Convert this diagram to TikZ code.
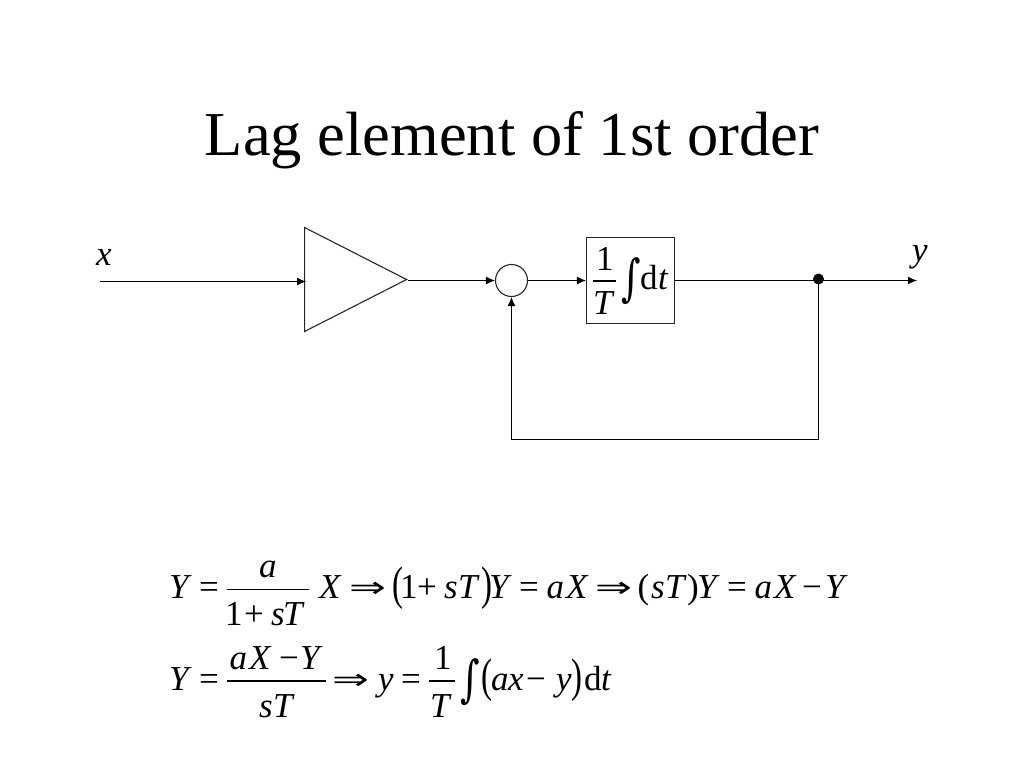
\documentclass[tikz,border=0pt]{standalone}
\usepackage{fontspec}
\usepackage{graphicx}
\setmainfont{Liberation Serif}
\newfontfamily\symf{DejaVu Sans}
\newfontfamily\intf{DejaVu Serif}
\usetikzlibrary{arrows.meta,shapes.geometric}
\newcommand{\eqs}{\fontsize{35}{37}\selectfont}
\newcommand{\bigint}{\scalebox{0.75}[1]{\fontsize{50}{50}\selectfont\intf ∫}}
\newcommand{\thenarrow}{\scalebox{1}[0.66]{\fontsize{44}{44}\selectfont\symf ⇒}}
\newcommand{\lpar}{\scalebox{0.7}[1]{(}}
\newcommand{\rpar}{\scalebox{0.7}[1]{)}}
\tikzset{
  wire/.style={line width=1.1pt,draw=black},
  flow/.style={wire,-{Latex[length=9pt,width=8pt]}},
  outline/.style={draw=black!85,line width=1.1pt,inner sep=0pt},
  tok/.style={anchor=base west,inner sep=0pt,outer sep=0pt,font=\eqs},
  itok/.style={tok,font=\eqs\itshape},
  bigp/.style={tok,font=\fontsize{47}{49}\selectfont},
  ctr/.style={anchor=center,inner sep=0pt,outer sep=0pt},
  fracbar/.style={line width=1.2pt,draw=black}
}
\begin{document}
\begin{tikzpicture}[x=1pt,y=-1pt]
\useasboundingbox (0,0) rectangle (1024,768);
\node[anchor=base,inner sep=0pt,font=\fontsize{62.5}{66}\selectfont] (title) at (512,155) {Lag element of 1st order};
% diagram
\coordinate (in) at (100,281.5);
\coordinate (out) at (917,280.5);
\node[outline,isosceles triangle,isosceles triangle stretches,minimum width=104pt,minimum height=102pt,anchor=apex] (gain) at (408,279.5) {};
\node[outline,circle,minimum size=32pt] (sum) at (511.5,280.5) {};
\node[outline,rectangle,minimum width=88pt,minimum height=86pt] (block) at (630.5,280.5) {};
\node[circle,fill=black,minimum size=11pt,inner sep=0pt] (dot) at (818.5,279) {};
\coordinate (gainin) at (306,281.5);
\coordinate (apexout) at (408,280.5);
\coordinate (c1) at (818.5,439.5);
\coordinate (c2) at (511.5,439.5);
\draw[flow] (in) -- (gainin);
\draw[flow] (apexout) -- (sum.west);
\draw[flow] (sum.east) -- (block.west);
\draw[flow] (block.east) -- (out);
\draw[flow] (dot.center) -- (c1) -- (c2) -- (sum.south);
\node[itok] (lx) at (96,265) {x};
\node[itok] (ly) at (912,261) {y};
% block content
\node[tok] (b1) at (596,270) {1};
\draw[fracbar] (593,281) -- (616,281);
\node[itok] (bT) at (593,314) {T};
\node[ctr] (bint) at (631,281) {\bigint};
\node[tok] (bd) at (640,289) {d};
\node[itok] (bt) at (658,289) {t};
% row 1
\node[itok] (a1) at (169,598) {Y};
\node[tok] (a2) at (199,598) {=};
\node[itok] (a3) at (259,577) {a};
\draw[fracbar] (227,589.5) -- (309,589.5);
\node[tok] (a4) at (225,625) {1};
\node[tok] (a5) at (244,625) {+};
\node[itok] (a6) at (271,625) {s};
\node[itok] (a7) at (283,625) {T};
\node[itok] (a8) at (319,598) {X};
\node[ctr] (a9) at (368,590) {\thenarrow};
\node[bigp] (a10) at (392,599) {\lpar};
\node[tok] (a11) at (400,598) {1};
\node[tok] (a12) at (417,598) {+};
\node[itok] (a13) at (444,598) {s};
\node[itok] (a14) at (458,598) {T};
\node[bigp] (a15) at (481,599) {\rpar};
\node[itok] (a16) at (489,598) {Y};
\node[tok] (a17) at (519,598) {=};
\node[itok] (a18) at (546.5,598) {a};
\node[itok] (a19) at (566,598) {X};
\node[ctr] (a20) at (613.5,590) {\thenarrow};
\node[tok] (a21) at (637.5,598) {(};
\node[itok] (a22) at (651,598) {s};
\node[itok] (a23) at (665,598) {T};
\node[tok] (a24) at (687,598) {)};
\node[itok] (a25) at (697,598) {Y};
\node[tok] (a26) at (727,598) {=};
\node[itok] (a27) at (754.5,598) {a};
\node[itok] (a28) at (774,598) {X};
\node[tok] (a29) at (802,598) {−};
\node[itok] (a30) at (825,598) {Y};
% row 2
\node[itok] (r1) at (169,690) {Y};
\node[tok] (r2) at (199,690) {=};
\node[itok] (r3) at (229.5,669) {a};
\node[itok] (r4) at (249,669) {X};
\node[tok] (r5) at (279,669) {−};
\node[itok] (r6) at (300,669) {Y};
\draw[fracbar] (227,681) -- (326,681);
\node[itok] (r7) at (259,717) {s};
\node[itok] (r8) at (273,717) {T};
\node[ctr] (r9) at (351,682) {\thenarrow};
\node[itok] (r10) at (378,690) {y};
\node[tok] (r11) at (401,690) {=};
\node[tok] (r12) at (434,669) {1};
\draw[fracbar] (429,681) -- (455,681);
\node[itok] (r13) at (430,717) {T};
\node[ctr] (r14) at (470,682) {\bigint};
\node[bigp] (r15) at (481,691) {\lpar};
\node[itok] (r16) at (491,690) {a};
\node[itok] (r17) at (508,690) {x};
\node[tok] (r18) at (526,690) {−};
\node[itok] (r19) at (556,690) {y};
\node[bigp] (r20) at (571,691) {\rpar};
\node[tok] (r21) at (584,690) {d};
\node[itok] (r22) at (601,690) {t};
\end{tikzpicture}
\end{document}
